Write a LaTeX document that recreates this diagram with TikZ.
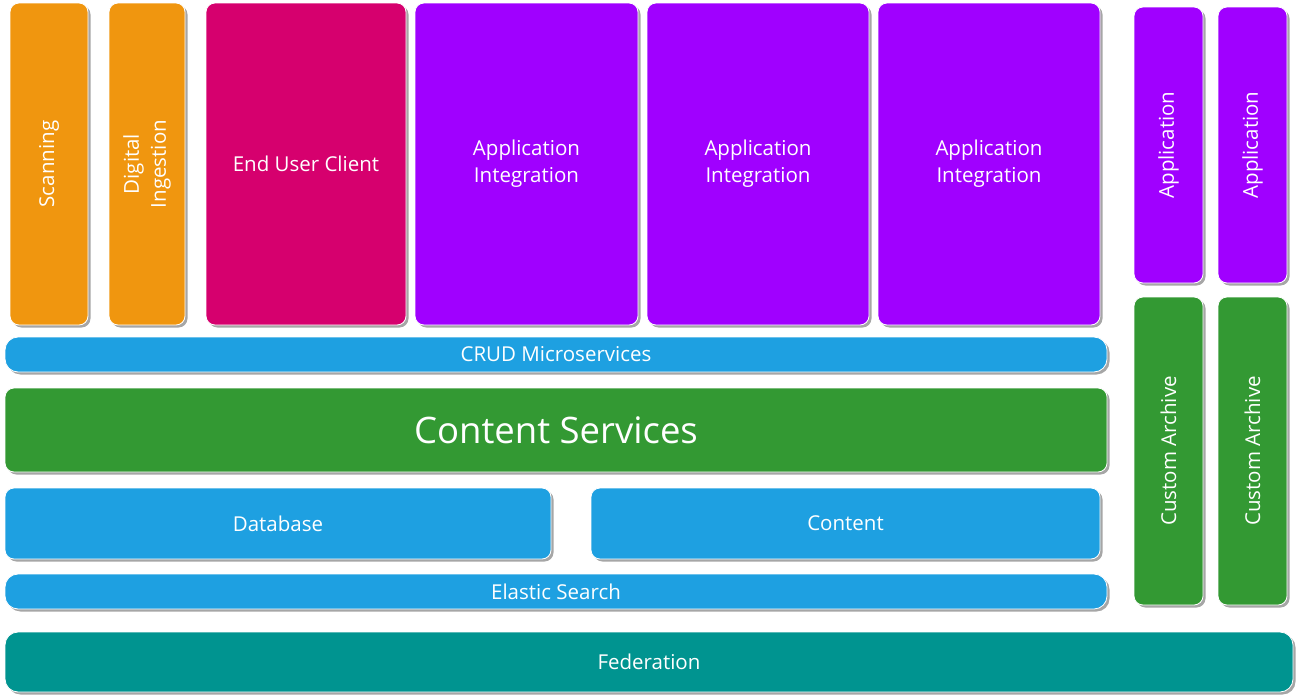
\documentclass[tikz,border=0pt]{standalone}
\usepackage{fontspec}
\setmainfont{Open Sans}
\usetikzlibrary{fit,shadows}
\definecolor{cOrange}{RGB}{240,150,15}
\definecolor{cMagenta}{RGB}{214,0,110}
\definecolor{cPurple}{RGB}{160,0,255}
\definecolor{cBlue}{RGB}{30,160,225}
\definecolor{cGreen}{RGB}{51,153,51}
\definecolor{cTeal}{RGB}{0,148,144}
\tikzset{
  blk/.style={rounded corners=9pt, draw=white, line width=0.8pt, inner sep=0pt,
    fill=#1,
    drop shadow={shadow xshift=2.5pt, shadow yshift=-2.5pt, fill=black, opacity=0.35}},
  htext/.style={text=white, align=center, inner sep=0pt, font=\fontsize{20.5}{27}\selectfont},
  vtext/.style={htext, rotate=90},
}
\begin{document}
\begin{tikzpicture}[x=1pt,y=-1pt]
\fill[white] (0,0) rectangle (1296,696);
\useasboundingbox (0,0) rectangle (1296,696);
% client layer
\node[blk=cOrange, fit={(10,3)(88,325)}] (scan) {};
\node[vtext] at (scan.center) {Scanning};
\node[blk=cOrange, fit={(109,3)(185,325)}] (ingest) {};
\node[vtext] at (ingest.center) {Digital\\Ingestion};
\node[blk=cMagenta, fit={(206,3)(406,325)}] (client) {};
\node[htext] at (client.center) {End User Client};
\node[blk=cPurple, fit={(415,3)(638,325)}] (integ1) {};
\node[htext] at (integ1.center) {Application\\Integration};
\node[blk=cPurple, fit={(647,3)(869,325)}] (integ2) {};
\node[htext] at (integ2.center) {Application\\Integration};
\node[blk=cPurple, fit={(878,3)(1100,325)}] (integ3) {};
\node[htext] at (integ3.center) {Application\\Integration};
% services stack
\node[blk=cBlue, rounded corners=13pt, fit={(5,337)(1107,372)}] (crud) {};
\node[htext] at (crud.center) {CRUD Microservices};
\node[blk=cGreen, fit={(5,388)(1107,472)}] (cs) {};
\node[htext, font=\fontsize{36.5}{44}\selectfont] at (cs.center) {Content Services};
\node[blk=cBlue, fit={(5,488)(551,559)}] (db) {};
\node[htext] at (db.center) {Database};
\node[blk=cBlue, fit={(591,488)(1100,559)}] (content) {};
\node[htext] at (content.center) {Content};
\node[blk=cBlue, rounded corners=13pt, fit={(5,574)(1107,609)}] (es) {};
\node[htext] at (es.center) {Elastic Search};
% side applications and archives
\node[blk=cPurple, fit={(1134,7)(1203,283)}] (app1) {};
\node[vtext] at (app1.center) {Application};
\node[blk=cPurple, fit={(1218,7)(1287,283)}] (app2) {};
\node[vtext] at (app2.center) {Application};
\node[blk=cGreen, fit={(1134,297)(1203,605)}] (arch1) {};
\node[vtext] at (arch1.center) {Custom Archive};
\node[blk=cGreen, fit={(1218,297)(1287,605)}] (arch2) {};
\node[vtext] at (arch2.center) {Custom Archive};
% federation base
\node[blk=cTeal, rounded corners=13pt, fit={(5,632)(1293,692)}] (fed) {};
\node[htext] at (fed.center) {Federation};
\end{tikzpicture}
\end{document}
